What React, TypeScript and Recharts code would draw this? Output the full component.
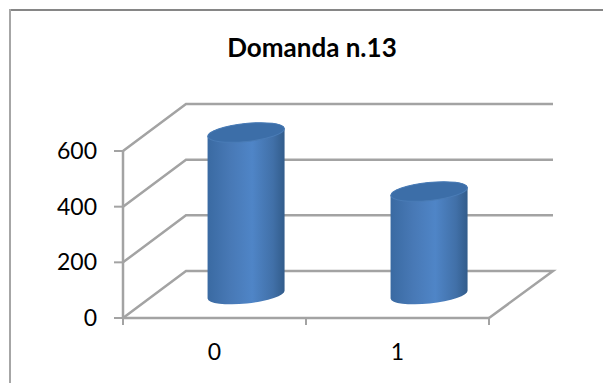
import { BarChart, Bar, XAxis, YAxis, CartesianGrid } from 'recharts';

const categories = ['0', '1'];
const risposte = [582, 370];
const yTicks = [0, 200, 400, 600];

const data = categories.map((name, i) => ({ name, risposte: risposte[i] }));

// depth of the fake 3D box, from the front plane to the back wall
const DEPTH_X = 63;
const DEPTH_Y = -47;
const AXIS_COLOR = '#a3a3a3';
const FONT = 'Lato, sans-serif';

function Cylinder(props: any) {
  const { x, y, width, height } = props;
  const left = x + DEPTH_X / 2;
  const right = left + width;
  const cx = left + width / 2;
  const top = y + DEPTH_Y / 2;
  const bottom = top + height;
  const rx = width / 2;
  const ry = 9;
  const tilt = 4; // ellipse ends are not level
  const body = `M${left},${top + tilt} L${left},${bottom + tilt} A${rx},${ry} -6 0 0 ${right},${bottom - tilt} L${right},${top - tilt} A${rx},${ry} -6 0 0 ${left},${top + tilt} Z`;
  return (
    <g>
      <path d={body} fill="url(#cylinderSide)" />
      <ellipse cx={cx} cy={top} rx={rx} ry={ry} transform={`rotate(-6 ${cx} ${top})`} fill="#3c6ea8" stroke="#4a7cb6" strokeWidth={1} />
    </g>
  );
}

function CategoryTick(props: any) {
  const { x, y, payload, index } = props;
  const half = payload.offset;
  return (
    <g>
      <line x1={x - half} y1={y} x2={x - half} y2={y + 7} stroke={AXIS_COLOR} strokeWidth={2} />
      {index === categories.length - 1 && (
        <line x1={x + half} y1={y} x2={x + half} y2={y + 7} stroke={AXIS_COLOR} strokeWidth={2} />
      )}
      <text x={x} y={y + 42} textAnchor="middle" fontFamily={FONT} fontSize={23} fill="#000">
        {payload.value}
      </text>
    </g>
  );
}

// gridlines run along the side wall and then across the back wall
function WallLine(props: any) {
  const { x1, x2, y1 } = props;
  const backY = y1 + DEPTH_Y;
  const isFloor = props.index === 0;
  const points = [
    `${x1},${y1}`,
    `${x1 + DEPTH_X},${backY}`,
    `${x2 + DEPTH_X + 1},${backY}`,
    ...(isFloor ? [`${x2},${y1}`] : []),
  ].join(' ');
  return <polyline points={points} fill="none" stroke={AXIS_COLOR} strokeWidth={2.5} />;
}

export default function App() {
  return (
    <div style={{ position: 'absolute', left: 0, top: 0, width: 603, height: 383, background: '#fff' }}>
      {/* chart frame, only its top and left edges show */}
      <div style={{ position: 'absolute', left: 9, top: 9, width: 594, height: 2, background: '#868686' }} />
      <div style={{ position: 'absolute', left: 9, top: 9, width: 2, height: 374, background: '#a6a6a6' }} />
      <BarChart
        width={603}
        height={383}
        data={data}
        margin={{ top: 151, right: 114, bottom: 0, left: 0 }}
        barCategoryGap="29%"
        style={{ position: 'absolute', left: 0, top: 0 }}
      >
        <defs>
          <linearGradient id="cylinderSide" x1="0" y1="0" x2="1" y2="0">
            <stop offset="0%" stopColor="#3a6aa2" />
            <stop offset="30%" stopColor="#4879b6" />
            <stop offset="58%" stopColor="#4f85c7" />
            <stop offset="85%" stopColor="#4170a8" />
            <stop offset="100%" stopColor="#325c8b" />
          </linearGradient>
        </defs>
        <text x={312} y={57} textAnchor="middle" fontFamily={FONT} fontWeight={700} fontSize={26} fill="#000">
          Domanda n.13
        </text>
        <CartesianGrid vertical={false} horizontal={(p: any) => <WallLine key={p.index} {...p} />} />
        <XAxis
          dataKey="name"
          height={65}
          axisLine={{ stroke: AXIS_COLOR, strokeWidth: 2.5 }}
          tickLine={false}
          tickSize={0}
          tickMargin={0}
          tick={<CategoryTick />}
          interval={0}
        />
        <YAxis
          width={123}
          domain={[0, 600]}
          ticks={yTicks}
          axisLine={{ stroke: AXIS_COLOR, strokeWidth: 2.5 }}
          tickLine={{ stroke: AXIS_COLOR, strokeWidth: 2 }}
          tickSize={9}
          tickMargin={17}
          tick={{ fontFamily: FONT, fontSize: 23, fill: '#000' }}
        />
        <Bar dataKey="risposte" shape={<Cylinder />} isAnimationActive={false} />
      </BarChart>
    </div>
  );
}
